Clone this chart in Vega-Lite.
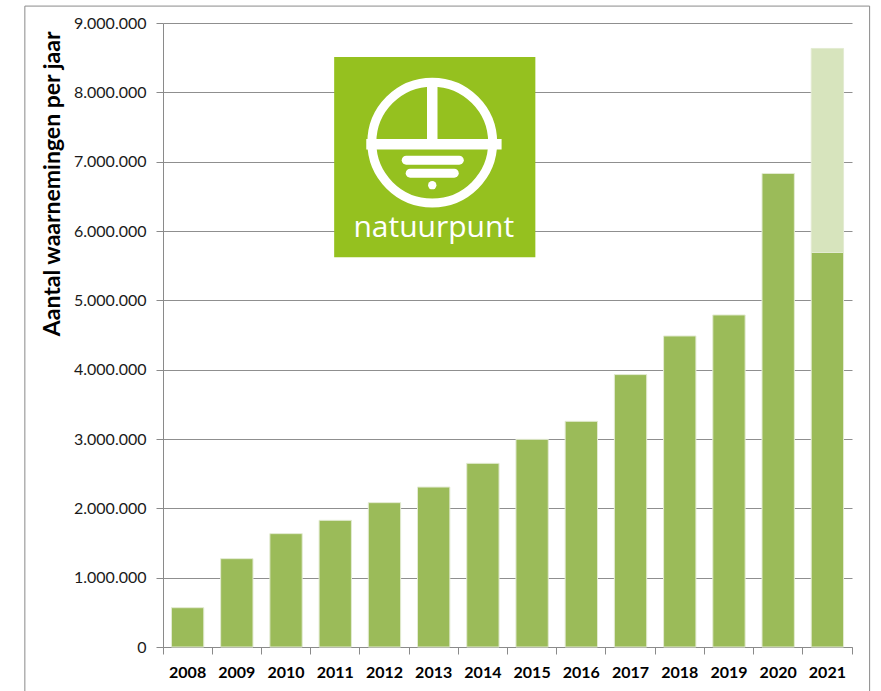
{
  "$schema": "https://vega.github.io/schema/vega-lite/v6.json",
  "width": 689,
  "height": 624,
  "autosize": {"type": "none"},
  "padding": {"left": 163, "top": 23, "right": 29, "bottom": 44},
  "background": "white",
  "config": {
    "view": {"stroke": null},
    "font": "Lato",
    "locale": {"number": {"decimal": ",", "thousands": ".", "grouping": [3], "currency": ["€", ""]}}
  },
  "layer": [
    {
      "data": {"values": [{"x1": -2.807, "x2": 14.358, "y1": 9244000, "y2": -700000}]},
      "mark": {"type": "rect", "fillOpacity": 0, "stroke": "#8a8a8a", "strokeWidth": 1},
      "encoding": {
        "x": {"field": "x1", "type": "quantitative", "scale": {"domain": [0, 14], "nice": false, "zero": false}, "axis": null},
        "x2": {"field": "x2"},
        "y": {"field": "y1", "type": "quantitative", "scale": {"domain": [0, 9000000], "nice": false}},
        "y2": {"field": "y2"}
      }
    },
    {
      "data": {"values": [
        {"jaar": "2008", "aantal": 567000, "deel": "waargenomen"},
        {"jaar": "2009", "aantal": 1274000, "deel": "waargenomen"},
        {"jaar": "2010", "aantal": 1635000, "deel": "waargenomen"},
        {"jaar": "2011", "aantal": 1827000, "deel": "waargenomen"},
        {"jaar": "2012", "aantal": 2082000, "deel": "waargenomen"},
        {"jaar": "2013", "aantal": 2307000, "deel": "waargenomen"},
        {"jaar": "2014", "aantal": 2649000, "deel": "waargenomen"},
        {"jaar": "2015", "aantal": 2995000, "deel": "waargenomen"},
        {"jaar": "2016", "aantal": 3255000, "deel": "waargenomen"},
        {"jaar": "2017", "aantal": 3929000, "deel": "waargenomen"},
        {"jaar": "2018", "aantal": 4486000, "deel": "waargenomen"},
        {"jaar": "2019", "aantal": 4789000, "deel": "waargenomen"},
        {"jaar": "2020", "aantal": 6830000, "deel": "waargenomen"},
        {"jaar": "2021", "aantal": 5690000, "deel": "waargenomen"},
        {"jaar": "2021", "aantal": 2943000, "deel": "bijkomend"}
      ]},
      "mark": {"type": "bar", "width": {"band": 0.657}, "stroke": "#E3EBD2", "strokeWidth": 1},
      "encoding": {
        "x": {
          "field": "jaar", "type": "ordinal",
          "scale": {"paddingInner": 0, "paddingOuter": 0},
          "axis": {
            "title": null, "labelAngle": 0, "labelFont": "Lato", "labelFontWeight": "bold",
            "labelFontSize": 16, "labelColor": "#000", "labelPadding": 10,
            "domainColor": "#8a8a8a", "tickColor": "#8a8a8a", "tickSize": 7,
            "bandPosition": 1, "tickExtra": true
          }
        },
        "y": {
          "field": "aantal", "type": "quantitative", "stack": "zero",
          "scale": {"domain": [0, 9000000], "nice": false},
          "axis": {
            "title": "Aantal waarnemingen per jaar",
            "values": [0, 1000000, 2000000, 3000000, 4000000, 5000000, 6000000, 7000000, 8000000, 9000000],
            "format": ",d", "grid": true, "gridColor": "#8f8f8f", "gridWidth": 1,
            "domainColor": "#8a8a8a", "tickColor": "#8a8a8a", "tickSize": 7,
            "labelFont": "Lato", "labelFontSize": 16, "labelColor": "#1a1a1a", "labelPadding": 10,
            "titleFont": "Lato", "titleFontSize": 23, "titleFontWeight": "bold", "titleColor": "#000",
            "titleAnchor": "end", "titleY": 8, "titlePadding": 9
          }
        },
        "color": {"field": "deel", "type": "nominal", "scale": {"domain": ["waargenomen", "bijkomend"], "range": ["#9BBB59", "#D7E4BD"]}, "legend": null},
        "order": {"field": "deel", "sort": "descending"}
      }
    },
    {
      "data": {"values": [{"x1": 3.478, "x2": 7.566, "y1": 8508000, "y2": 5622000}]},
      "mark": {"type": "rect", "fill": "#95C11F"},
      "encoding": {
        "x": {"field": "x1", "type": "quantitative", "scale": {"domain": [0, 14], "nice": false, "zero": false}, "axis": null},
        "x2": {"field": "x2"},
        "y": {"field": "y1", "type": "quantitative", "scale": {"domain": [0, 9000000], "nice": false}},
        "y2": {"field": "y2"}
      }
    },
    {
      "data": {"values": [{"x": 5.471, "y": 7275000}]},
      "mark": {"type": "point", "shape": "circle", "filled": false, "stroke": "white", "strokeWidth": 9, "size": 14600, "opacity": 1},
      "encoding": {
        "x": {"field": "x", "type": "quantitative", "scale": {"domain": [0, 14], "nice": false, "zero": false}, "axis": null},
        "y": {"field": "y", "type": "quantitative", "scale": {"domain": [0, 9000000], "nice": false}}
      }
    },
    {
      "data": {"values": [
        {"x1": 4.13, "x2": 6.88, "y1": 7252000, "y2": 7252000},
        {"x1": 5.471, "x2": 5.471, "y1": 8180000, "y2": 7252000}
      ]},
      "mark": {"type": "rule", "color": "white", "strokeWidth": 10.5, "strokeCap": "butt"},
      "encoding": {
        "x": {"field": "x1", "type": "quantitative", "scale": {"domain": [0, 14], "nice": false, "zero": false}, "axis": null},
        "x2": {"field": "x2"},
        "y": {"field": "y1", "type": "quantitative", "scale": {"domain": [0, 9000000], "nice": false}},
        "y2": {"field": "y2"}
      }
    },
    {
      "data": {"values": [
        {"x1": 4.942, "x2": 6.02, "y1": 7022000, "y2": 7022000},
        {"x1": 5.023, "x2": 5.918, "y1": 6834000, "y2": 6834000}
      ]},
      "mark": {"type": "rule", "color": "white", "strokeWidth": 9, "strokeCap": "round"},
      "encoding": {
        "x": {"field": "x1", "type": "quantitative", "scale": {"domain": [0, 14], "nice": false, "zero": false}, "axis": null},
        "x2": {"field": "x2"},
        "y": {"field": "y1", "type": "quantitative", "scale": {"domain": [0, 9000000], "nice": false}},
        "y2": {"field": "y2"}
      }
    },
    {
      "data": {"values": [{"x": 5.471, "y": 6661000}]},
      "mark": {"type": "point", "shape": "circle", "filled": true, "color": "white", "size": 70, "opacity": 1},
      "encoding": {
        "x": {"field": "x", "type": "quantitative", "scale": {"domain": [0, 14], "nice": false, "zero": false}, "axis": null},
        "y": {"field": "y", "type": "quantitative", "scale": {"domain": [0, 9000000], "nice": false}}
      }
    },
    {
      "data": {"values": [{"x": 5.502, "y": 5911000, "naam": "natuurpunt"}]},
      "mark": {"type": "text", "font": "Open Sans", "fontSize": 30, "color": "white", "align": "center", "baseline": "alphabetic"},
      "encoding": {
        "x": {"field": "x", "type": "quantitative", "scale": {"domain": [0, 14], "nice": false, "zero": false}, "axis": null},
        "y": {"field": "y", "type": "quantitative", "scale": {"domain": [0, 9000000], "nice": false}},
        "text": {"field": "naam"}
      }
    }
  ],
  "resolve": {"scale": {"x": "independent"}}
}
